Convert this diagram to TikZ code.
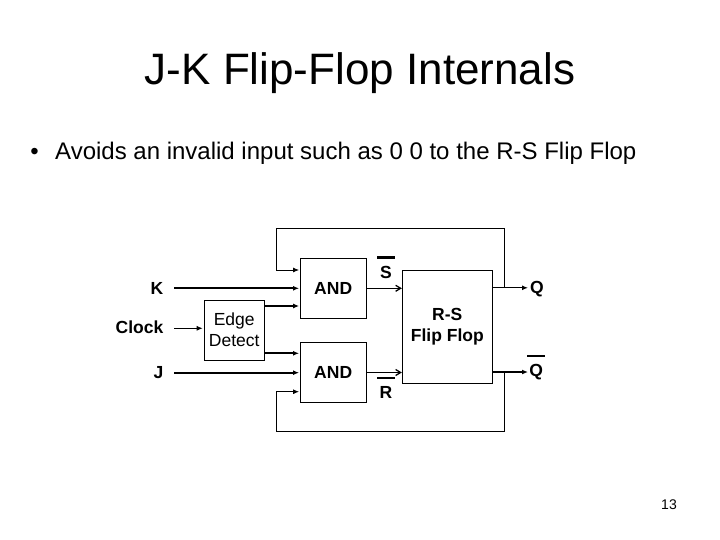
\documentclass[tikz,border=0pt]{standalone}
\usepackage{fontspec}
\setmainfont{Liberation Sans}
\usetikzlibrary{arrows.meta}
\newcommand{\negbar}[1]{\vbox{\hrule width 18pt height 2.6pt\vskip 7pt\hbox to 18pt{\hss#1\hss}}}
\begin{document}
\begin{tikzpicture}[x=1pt,y=-1pt,
	blk/.style={draw,line width=0.8pt,inner sep=0pt,font=\fontsize{17.5}{21}\selectfont\bfseries},
	lbl/.style={inner sep=0pt,font=\fontsize{17.5}{21}\selectfont\bfseries},
	sig/.style={line width=1.8pt,-{Latex[length=6pt,width=5pt]},shorten >=1pt},
	barb/.style={line width=1.3pt,-{Straight Barb[length=5pt,width=6pt]}},
	fbk/.style={line width=0.9pt,-{Latex[length=6pt,width=5pt]},shorten >=1pt}]
	\fill[white] (0,0) rectangle (720,540);
	\useasboundingbox (0,0) rectangle (720,540);
	\node[anchor=base,font=\fontsize{44}{50}\selectfont] (title) at (360,84.3) {J-K Flip-Flop Internals};
	\node[anchor=base,inner sep=0pt,font=\fontsize{24}{28}\selectfont] (dot) at (34.5,160) {•};
	\node[anchor=base west,inner sep=0pt,font=\fontsize{24}{28}\selectfont] (point) at (55,160) {Avoids an invalid input such as 0 0 to the R-S Flip Flop};
	\node[anchor=base,inner sep=0pt,font=\fontsize{14}{16}\selectfont] (page) at (669,509) {13};
	\node[blk,minimum width=65.5pt,minimum height=60pt] (andk) at (333.2,288.3) {AND};
	\node[blk,minimum width=65.5pt,minimum height=60.4pt] (andj) at (333.2,372.5) {AND};
	\node[blk,font=\fontsize{17.5}{21}\selectfont,align=center,minimum width=60.3pt,minimum height=60pt] (edge) at (234.2,330) {Edge\\Detect};
	\node[blk,align=center,minimum width=90pt,minimum height=113.3pt] (rs) at (447.3,326.7) {R-S\\Flip Flop};
	\node[lbl,anchor=base east] (k) at (163.5,294) {K};
	\node[lbl,anchor=base east] (clk) at (163.5,333.8) {Clock};
	\node[lbl,anchor=base east] (j) at (163.5,378.5) {J};
	\node[lbl,anchor=base] (sbar) at (386,278.3) {\negbar{S}};
	\node[lbl,anchor=base] (rbar) at (386,398.3) {\negbar{R}};
	\node[lbl,anchor=base west] (q) at (530,293.3) {Q};
	\node[lbl,anchor=base west] (qbar) at (527,376.5) {\negbar{Q}};
	\coordinate (kin) at (174.3,288.3);
	\coordinate (clkin) at (174.3,328.3);
	\coordinate (jin) at (174.3,372.7);
	\coordinate (eu) at ([yshift=24pt]edge.east);
	\coordinate (el) at ([yshift=-23.3pt]edge.east);
	\coordinate (qo) at (529,287.8);
	\coordinate (qbo) at (529,372);
	\coordinate (tapq) at (504,287.8);
	\coordinate (tapqb) at (504,372);
	\coordinate (topl) at (276.7,228.3);
	\coordinate (botl) at (276.7,431.7);
	\draw[sig] (kin) -- (kin -| andk.west);
	\draw[sig] (jin) -- (jin -| andj.west);
	\draw[sig,line width=0.9pt] (clkin) -- (clkin -| edge.west);
	\draw[sig] (eu) -- (eu -| andk.west);
	\draw[sig] (el) -- (el -| andj.west);
	\draw[barb] (andk.east) -- (andk.east -| rs.west);
	\draw[barb] (andj.east) -- (andj.east -| rs.west);
	\draw[sig,line width=1.2pt] (qo -| rs.east) -- (qo);
	\draw[sig,line width=1.2pt] (qbo -| rs.east) -- (qbo);
	\draw[fbk] (tapq) |- (topl) |- ([yshift=18.3pt]andk.west);
	\draw[fbk] (tapqb) |- (botl) |- ([yshift=-19.2pt]andj.west);
\end{tikzpicture}
\end{document}
